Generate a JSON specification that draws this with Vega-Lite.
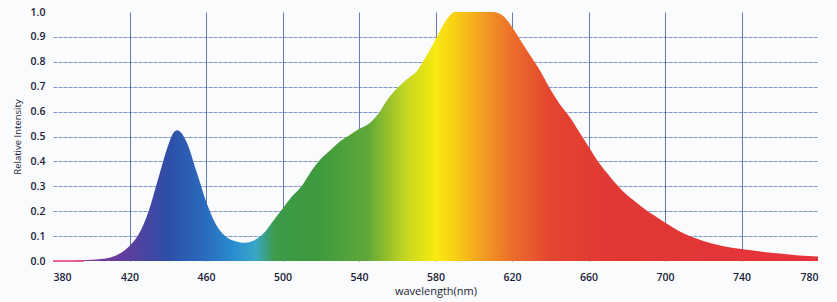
{
  "$schema": "https://vega.github.io/schema/vega-lite/v6.json",
  "width": 765,
  "height": 249,
  "autosize": {"type": "none"},
  "padding": {"left": 53, "top": 12, "right": 19, "bottom": 41},
  "background": "#fafbfc",
  "config": {
    "view": {"stroke": null},
    "axis": {
      "labelFont": "Open Sans",
      "titleFont": "Open Sans",
      "labelColor": "#1c1c38",
      "titleColor": "#1c1c38",
      "labelFontSize": 10.5,
      "labelFontWeight": 600,
      "titleFontSize": 9.5,
      "titleFontWeight": "normal",
      "labelOverlap": false,
      "domain": false,
      "ticks": false
    }
  },
  "datasets": {
    "spectrum": [
      {"wl": 380, "v": 0.0},
      {"wl": 390, "v": 0.0},
      {"wl": 395, "v": 0.003},
      {"wl": 400, "v": 0.005},
      {"wl": 405, "v": 0.008},
      {"wl": 410, "v": 0.014},
      {"wl": 415, "v": 0.03},
      {"wl": 420, "v": 0.06},
      {"wl": 425, "v": 0.11},
      {"wl": 430, "v": 0.2},
      {"wl": 435, "v": 0.33},
      {"wl": 440, "v": 0.46},
      {"wl": 443, "v": 0.515},
      {"wl": 445, "v": 0.525},
      {"wl": 447, "v": 0.515},
      {"wl": 450, "v": 0.475},
      {"wl": 455, "v": 0.36},
      {"wl": 460, "v": 0.24},
      {"wl": 465, "v": 0.15},
      {"wl": 470, "v": 0.1},
      {"wl": 475, "v": 0.08},
      {"wl": 480, "v": 0.073},
      {"wl": 485, "v": 0.082},
      {"wl": 490, "v": 0.11},
      {"wl": 495, "v": 0.16},
      {"wl": 500, "v": 0.21},
      {"wl": 505, "v": 0.26},
      {"wl": 510, "v": 0.3},
      {"wl": 515, "v": 0.36},
      {"wl": 520, "v": 0.41},
      {"wl": 525, "v": 0.445},
      {"wl": 530, "v": 0.48},
      {"wl": 535, "v": 0.505},
      {"wl": 540, "v": 0.53},
      {"wl": 545, "v": 0.55},
      {"wl": 550, "v": 0.59},
      {"wl": 555, "v": 0.65},
      {"wl": 560, "v": 0.695},
      {"wl": 565, "v": 0.73},
      {"wl": 570, "v": 0.76},
      {"wl": 575, "v": 0.82},
      {"wl": 580, "v": 0.89},
      {"wl": 585, "v": 0.96},
      {"wl": 588, "v": 0.99},
      {"wl": 590, "v": 1.0},
      {"wl": 595, "v": 1.0},
      {"wl": 600, "v": 1.0},
      {"wl": 605, "v": 1.0},
      {"wl": 610, "v": 1.0},
      {"wl": 613, "v": 0.995},
      {"wl": 616, "v": 0.98},
      {"wl": 620, "v": 0.94},
      {"wl": 625, "v": 0.88},
      {"wl": 630, "v": 0.82},
      {"wl": 635, "v": 0.76},
      {"wl": 640, "v": 0.69},
      {"wl": 645, "v": 0.63},
      {"wl": 650, "v": 0.58},
      {"wl": 655, "v": 0.52},
      {"wl": 660, "v": 0.46},
      {"wl": 665, "v": 0.4},
      {"wl": 670, "v": 0.35},
      {"wl": 678, "v": 0.28},
      {"wl": 685, "v": 0.235},
      {"wl": 690, "v": 0.205},
      {"wl": 695, "v": 0.18},
      {"wl": 700, "v": 0.155},
      {"wl": 710, "v": 0.11},
      {"wl": 720, "v": 0.08},
      {"wl": 730, "v": 0.06},
      {"wl": 740, "v": 0.048},
      {"wl": 750, "v": 0.038},
      {"wl": 760, "v": 0.03},
      {"wl": 770, "v": 0.022},
      {"wl": 780, "v": 0.018}
    ],
    "baseline": [{"wl": 380, "wl2": 396, "v": 0}]
  },
  "encoding": {
    "x": {
      "field": "wl",
      "type": "quantitative",
      "scale": {"domain": [380, 780], "nice": false, "zero": false},
      "axis": {
        "title": "wavelength(nm)",
        "titleFontSize": 11,
        "values": [380, 420, 460, 500, 540, 580, 620, 660, 700, 740, 780],
        "labelPadding": 11,
        "titlePadding": 3,
        "grid": true,
        "gridColor": "#2f50a6",
        "gridWidth": 1,
        "gridOpacity": {"condition": {"test": "datum.value == 380 || datum.value == 780", "value": 0}, "value": 0.75}
      }
    },
    "y": {
      "field": "v",
      "type": "quantitative",
      "scale": {"domain": [0, 1], "nice": false},
      "axis": {
        "title": "Relative Intensity",
        "values": [0, 0.1, 0.2, 0.3, 0.4, 0.5, 0.6, 0.7, 0.8, 0.9, 1.0],
        "tickCount": 11,
        "format": ".1f",
        "labelPadding": 8,
        "titlePadding": 8,
        "grid": true,
        "gridColor": "#2f50a6",
        "gridWidth": 1,
        "gridDash": [4, 1],
        "gridOpacity": {"condition": {"test": "datum.value < 0.05 || datum.value > 0.95", "value": 0}, "value": 0.6}
      }
    }
  },
  "layer": [
    {
      "data": {"name": "spectrum"},
      "mark": {
        "type": "area",
        "interpolate": "monotone",
        "clip": true,
        "color": {
          "gradient": "linear",
          "x1": 0, "x2": 1, "y1": 0, "y2": 0,
          "stops": [
            {"offset": 0.0, "color": "#e03078"},
            {"offset": 0.04, "color": "#8a3a9a"},
            {"offset": 0.1, "color": "#5a3f9e"},
            {"offset": 0.15, "color": "#2e4ea8"},
            {"offset": 0.2, "color": "#2a6cbf"},
            {"offset": 0.2375, "color": "#2a8fd0"},
            {"offset": 0.265, "color": "#3aa6c6"},
            {"offset": 0.29, "color": "#3c9a48"},
            {"offset": 0.35, "color": "#3e9a3e"},
            {"offset": 0.4125, "color": "#62a838"},
            {"offset": 0.46, "color": "#c4d622"},
            {"offset": 0.5, "color": "#f7ea10"},
            {"offset": 0.525, "color": "#f8d014"},
            {"offset": 0.5625, "color": "#f29c22"},
            {"offset": 0.6, "color": "#ec6e2a"},
            {"offset": 0.65, "color": "#e4452f"},
            {"offset": 0.725, "color": "#e03834"},
            {"offset": 1.0, "color": "#e6333c"}
          ]
        }
      }
    },
    {
      "data": {"name": "baseline"},
      "mark": {"type": "rule", "color": "#e03078", "strokeWidth": 1.5},
      "encoding": {
        "x2": {"field": "wl2"}
      }
    }
  ]
}
